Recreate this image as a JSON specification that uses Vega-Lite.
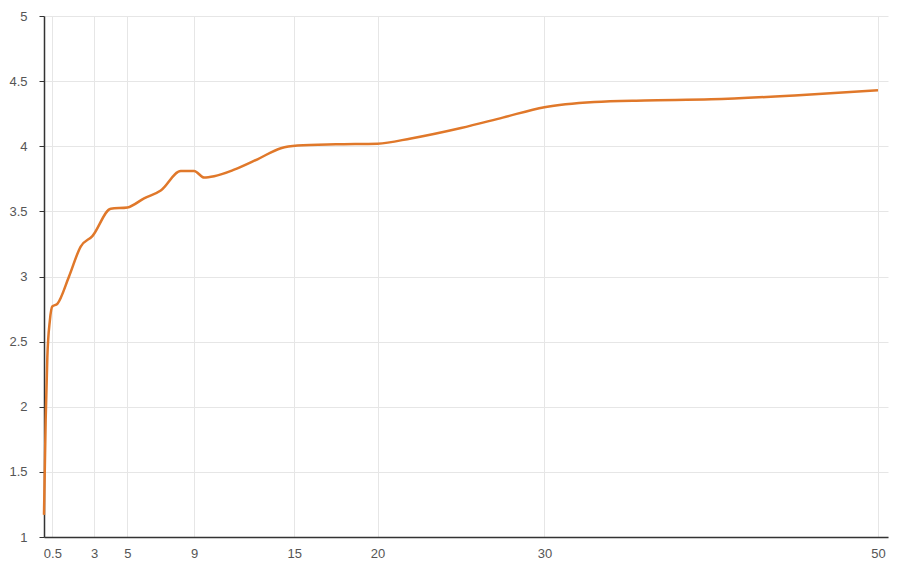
{
  "$schema": "https://vega.github.io/schema/vega-lite/v6.json",
  "width": 844,
  "height": 521,
  "autosize": {"type": "none"},
  "padding": {"left": 44, "top": 16, "right": 12, "bottom": 34},
  "background": "white",
  "config": {"view": {"stroke": null}},
  "data": {"values": [
    {"x": 0, "y": 1.17},
    {"x": 0.1, "y": 1.9},
    {"x": 0.2, "y": 2.38},
    {"x": 0.35, "y": 2.66},
    {"x": 0.5, "y": 2.77},
    {"x": 0.8, "y": 2.79},
    {"x": 1.5, "y": 3.0},
    {"x": 2.2, "y": 3.23},
    {"x": 2.9, "y": 3.31},
    {"x": 4.0, "y": 3.52},
    {"x": 5.0, "y": 3.53},
    {"x": 6.0, "y": 3.6},
    {"x": 7.0, "y": 3.66},
    {"x": 8.2, "y": 3.81},
    {"x": 9.0, "y": 3.81},
    {"x": 9.6, "y": 3.76},
    {"x": 10.2, "y": 3.77},
    {"x": 11.4, "y": 3.82},
    {"x": 12.8, "y": 3.9},
    {"x": 14.2, "y": 3.985},
    {"x": 15.2, "y": 4.005},
    {"x": 17.5, "y": 4.015},
    {"x": 20, "y": 4.02},
    {"x": 22, "y": 4.06},
    {"x": 25, "y": 4.14},
    {"x": 27.5, "y": 4.22},
    {"x": 30, "y": 4.3},
    {"x": 33, "y": 4.34},
    {"x": 36, "y": 4.352},
    {"x": 40, "y": 4.36},
    {"x": 45, "y": 4.39},
    {"x": 50, "y": 4.43}
  ]},
  "mark": {"type": "line", "color": "#e0782a", "strokeWidth": 2.5, "interpolate": "monotone"},
  "encoding": {
    "x": {
      "field": "x", "type": "quantitative",
      "scale": {"domain": [0, 50.6], "nice": false, "zero": false},
      "axis": {
        "title": null,
        "values": [0.5, 3, 5, 9, 15, 20, 30, 50],
        "format": "~g",
        "labelFlush": false, "labelOverlap": false,
        "grid": true, "gridColor": "#e6e6e6", "gridWidth": 1,
        "domainColor": "#333333", "domainWidth": 1.5,
        "ticks": false, "labelPadding": 10,
        "labelFont": "Liberation Sans", "labelFontSize": 13, "labelColor": "#555555"
      }
    },
    "y": {
      "field": "y", "type": "quantitative",
      "scale": {"domain": [1, 5], "nice": false, "zero": false},
      "axis": {
        "title": null,
        "values": [1, 1.5, 2, 2.5, 3, 3.5, 4, 4.5, 5],
        "format": "~g",
        "labelFlush": false, "labelOverlap": false,
        "grid": true, "gridColor": "#e6e6e6", "gridWidth": 1,
        "domainColor": "#333333", "domainWidth": 1.5,
        "ticks": true, "tickColor": "#333333", "tickSize": 5,
        "labelPadding": 12,
        "labelFont": "Liberation Sans", "labelFontSize": 13, "labelColor": "#555555"
      }
    }
  }
}
